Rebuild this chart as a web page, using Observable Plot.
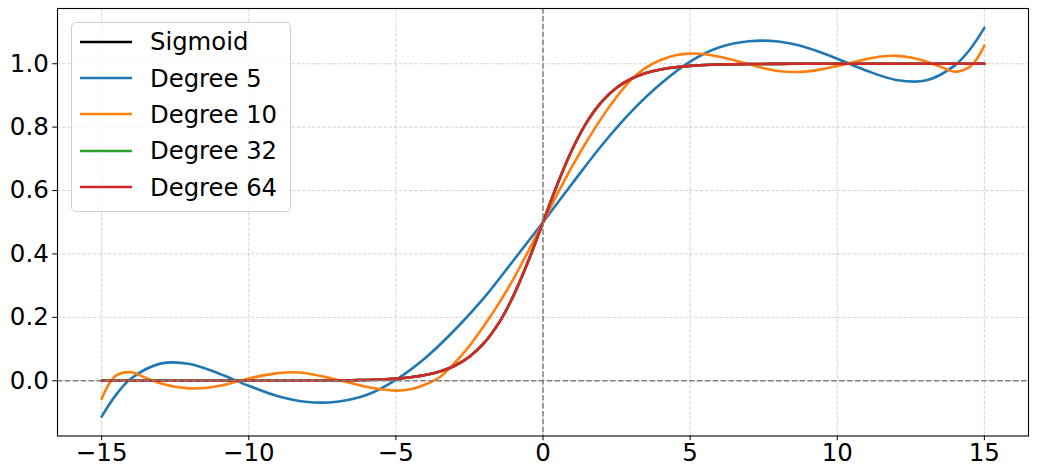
<!DOCTYPE html>
<html>
<head>
<meta charset="utf-8">
<script src="https://cdn.jsdelivr.net/npm/d3@7"></script>
<script src="https://cdn.jsdelivr.net/npm/@observablehq/plot@0.6"></script>
<style>
html, body { margin: 0; padding: 0; background: #fff; }
#wrap { position: relative; width: 1045px; height: 467px; font-family: "DejaVu Sans", sans-serif; }
#legend { position: absolute; left: 71px; top: 22px; width: 218px; height: 187px; border: 1px solid #d0d0d0; border-radius: 5px; background: rgba(255,255,255,0.8); padding-top: 0.5px; box-sizing: content-box; }
.row { display: flex; align-items: center; height: 36.4px; font-size: 24.3px; color: #000; white-space: nowrap; }
.sw { width: 52px; height: 6px; margin-left: 8px; margin-right: 18px; flex: none; display: block; }
</style>
</head>
<body>
<div id="wrap"><div id="chart"></div><div id="legend"></div></div>
<script>
// ---- data ----
const sigX = [-15,-14.5,-14,-13.5,-13,-12.5,-12,-11.5,-11,-10.5,-10,-9.5,-9,-8.5,-8,-7.5,-7,-6.5,-6,-5.5,-5,-4.5,-4,-3.5,-3,-2.5,-2,-1.5,-1,-0.5,
  0,0.5,1,1.5,2,2.5,3,3.5,4,4.5,5,5.5,6,6.5,7,7.5,8,8.5,9,9.5,10,10.5,11,11.5,12,12.5,13,13.5,14,14.5,15];
const sigmoidY = [0,0,0,0,0,0,0,0,0,0,0,0.0001,0.0001,0.0002,0.0003,0.0006,0.0009,0.0015,0.0025,0.0041,0.0067,0.0110,0.0180,0.0293,0.0474,0.0759,0.1192,0.1824,0.2689,0.3775,
  0.5,0.6225,0.7311,0.8176,0.8808,0.9241,0.9526,0.9707,0.9820,0.9890,0.9933,0.9959,0.9975,0.9985,0.9991,0.9994,0.9997,0.9998,0.9999,0.9999,1,1,1,1,1,1,1,1,1,1,1];

const deg5X = [-15,-14.5,-14,-13,-12,-11,-10,-9,-8,-7,-6,-5,-4,-3,-2,-1,0,1,2,3,4,5,6,7,8,9,10,11,12,13,14,14.5,15];
const deg5Y = [-0.113,-0.043,0.007,0.054,0.053,0.022,-0.016,-0.049,-0.067,-0.066,-0.045,0.003,0.072,0.160,0.262,0.380,
  0.500,0.623,0.743,0.849,0.937,1.007,1.052,1.071,1.070,1.050,1.016,0.978,0.949,0.947,0.995,1.044,1.113];

const deg10X = [-15,-14.75,-14.5,-14,-13.5,-13,-12.5,-12,-11.5,-11,-10.5,-10,-9.5,-9,-8.5,-8,-7.5,-7,-6.5,-6,-5.5,-5,-4.5,-4,-3.5,-3,-2.5,-2,-1.5,-1,-0.5,
  0,0.5,1,1.5,2,2.5,3,3.5,4,4.5,5,5.5,6,6.5,7,7.5,8,8.5,9,9.5,10,10.5,11,11.5,12,12.5,13,13.5,14,14.5,14.75,15];
const deg10Y = [-0.057,-0.010,0.017,0.027,0.009,-0.008,-0.019,-0.024,-0.023,-0.016,-0.005,0.007,0.017,0.024,0.027,0.023,0.014,0.003,-0.008,-0.019,-0.027,-0.031,-0.027,-0.012,0.012,0.056,0.110,0.174,0.244,0.322,0.409,
  0.500,0.591,0.678,0.757,0.830,0.895,0.950,0.988,1.012,1.027,1.032,1.030,1.022,1.011,0.998,0.986,0.977,0.974,0.976,0.983,0.993,1.004,1.015,1.023,1.025,1.020,1.008,0.991,0.975,0.990,1.016,1.057];

// Degree 32 and Degree 64 lie on the sigmoid everywhere in the picture
const deg32Y = sigmoidY.slice();
const deg64Y = sigmoidY.slice();

const xTicks = [-15,-10,-5,0,5,10,15];
const yTicks = [0,0.2,0.4,0.6,0.8,1.0];

const seriesNames  = ["Sigmoid","Degree 5","Degree 10","Degree 32","Degree 64"];
const seriesColors = ["#000000","#1f77b4","#ff7f0e","#2ca02c","#d62728"];

// ---- build ----
const rows = (xs, ys) => xs.map((x, i) => ({x, y: ys[i]}));
const seriesData = [rows(sigX, sigmoidY), rows(deg5X, deg5Y), rows(deg10X, deg10Y), rows(sigX, deg32Y), rows(sigX, deg64Y)];

const fmtX = d => d < 0 ? "\u2212" + (-d) : String(d);
const TICK_FONT = 24.5;

const chart = Plot.plot({
  width: 1045,
  height: 467,
  marginLeft: 57,
  marginRight: 17,
  marginTop: 8,
  marginBottom: 31.5,
  style: {fontFamily: "DejaVu Sans, sans-serif", fontSize: TICK_FONT + "px", color: "#000", background: "#fff", overflow: "visible"},
  x: {domain: [-16.5, 16.5]},
  y: {domain: [-0.1743, 1.1743]},
  marks: [
    Plot.gridX(xTicks, {stroke: "#b0b0b0", strokeOpacity: 0.7, strokeWidth: 0.8, strokeDasharray: "3.5,1.6"}),
    Plot.gridY(yTicks, {stroke: "#b0b0b0", strokeOpacity: 0.7, strokeWidth: 0.8, strokeDasharray: "3.5,1.6"}),
    ...seriesData.map((d, i) => Plot.line(d, {x: "x", y: "y", stroke: seriesColors[i], strokeWidth: 2.6, curve: "catmull-rom"})),
    Plot.ruleY([0], {stroke: "#808080", strokeWidth: 1.5, strokeDasharray: "5.5,2.4"}),
    Plot.ruleX([0], {stroke: "#808080", strokeWidth: 1.5, strokeDasharray: "5.5,2.4"}),
    Plot.frame({stroke: "#000", strokeWidth: 1.1}),
    Plot.axisX({ticks: xTicks, tickFormat: fmtX, tickSize: 4.7, tickPadding: 3, label: null, fontSize: TICK_FONT}),
    Plot.axisY({ticks: yTicks, tickFormat: d => d.toFixed(1), tickSize: 4.7, tickPadding: 4, label: null, fontSize: TICK_FONT})
  ]
});
chart.querySelectorAll("text").forEach(t => {
  t.style.fontSize = TICK_FONT + "px";
  t.style.fontFamily = "'DejaVu Sans', sans-serif";
  t.style.fill = "#000";
});
document.getElementById("chart").appendChild(chart);

const legend = document.getElementById("legend");
const NS = "http://www.w3.org/2000/svg";
seriesNames.forEach((name, i) => {
  const r = document.createElement("div");
  r.className = "row";
  const sw = document.createElementNS(NS, "svg");
  sw.setAttribute("class", "sw");
  sw.setAttribute("width", "52");
  sw.setAttribute("height", "6");
  const ln = document.createElementNS(NS, "line");
  ln.setAttribute("x1", "0"); ln.setAttribute("x2", "52");
  ln.setAttribute("y1", "3"); ln.setAttribute("y2", "3");
  ln.setAttribute("stroke", seriesColors[i]);
  ln.setAttribute("stroke-width", "2.6");
  sw.appendChild(ln);
  const t = document.createElement("span");
  t.textContent = name;
  r.appendChild(sw); r.appendChild(t);
  legend.appendChild(r);
});
</script>
</body>
</html>
